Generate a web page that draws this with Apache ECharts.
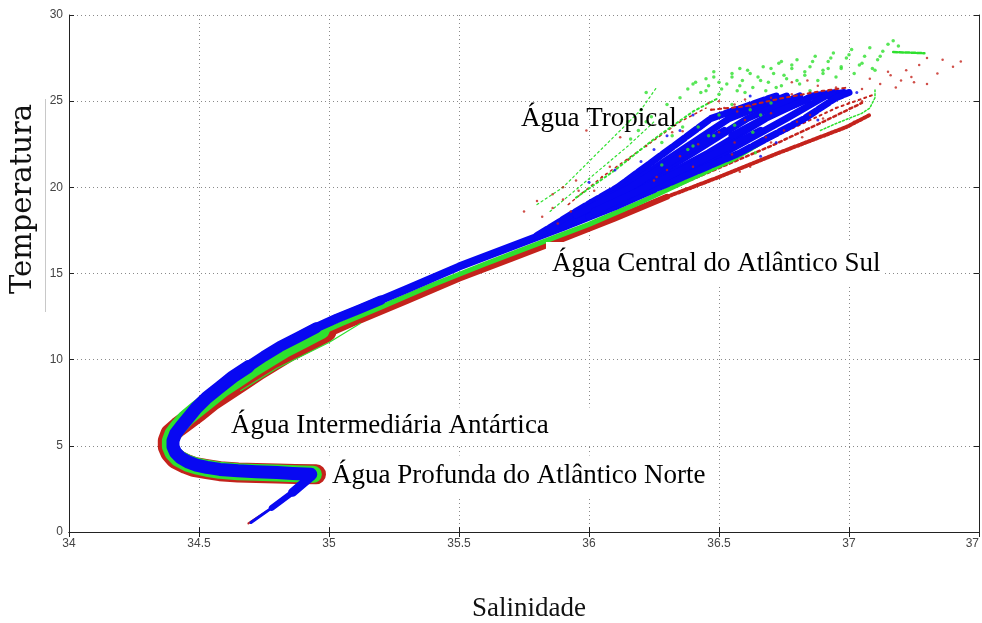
<!DOCTYPE html>
<html><head><meta charset="utf-8">
<script src="https://cdn.jsdelivr.net/npm/echarts@6/dist/echarts.min.js"></script>
<style>html,body{margin:0;padding:0;background:#fff}#c{width:982px;height:623px}</style>
</head><body><div id="c"></div>
<script>
// ---- tick labels / texts ----
const xTickLabels = ['34','34.5','35','35.5','36','36.5','37','37'];
const yTickLabels = ['0','5','10','15','20','25','30'];
const xTitle = 'Salinidade';
const yTitle = 'Temperatura';
const annotations = ['Água Tropical','Água Central do Atlântico Sul','Água Intermediária Antártica','Água Profunda do Atlântico Norte'];

// ---- red traces (salinity, temperature) ----
const redHook = [[34.95,3.35],[34.87,3.37],[34.80,3.40],[34.72,3.42],[34.65,3.45],[34.58,3.53],[34.53,3.65],[34.48,3.78],[34.45,3.95],[34.41,4.25],[34.39,4.6],[34.38,4.95],[34.38,5.3],[34.39,5.7],[34.42,6.1],[34.46,6.55],[34.50,7.0],[34.55,7.6],[34.61,8.2],[34.67,8.8],[34.73,9.4],[34.79,9.95],[34.85,10.5],[34.92,11.05],[34.99,11.6]];
const redMid = [[34.95,11.15],[35.10,12.15],[35.30,13.4],[35.50,14.7],[35.70,15.85],[35.90,17.0],[36.10,18.2],[36.30,19.45]];
const redFanA = [[36.30,19.45],[36.50,20.6],[36.73,22.0],[36.86,22.75],[36.99,23.5],[37.08,24.2]];
const redFanB = [[36.20,19.2],[36.45,20.8],[36.70,22.4],[36.90,23.8],[37.05,24.9]];
const redFanC = [[36.30,20.1],[36.55,21.7],[36.75,23.2],[36.95,24.6],[37.10,25.4]];
const redLeft = [[35.92,19.0],[36.05,20.6],[36.20,22.2],[36.35,23.8],[36.45,24.6]];
const redTop = [[36.47,24.5],[36.60,24.7],[36.75,25.2],[36.90,25.6],[37.00,25.8]];
const redTail = [[34.69,0.5],[34.76,1.2]];
const redDots = [[37.43,27.3],[37.40,27.0],[37.36,27.4],[37.30,27.5],[37.27,27.1],[37.22,26.8],[37.20,26.2],[37.16,26.5],[37.24,26.4],[37.12,26.0],[37.34,26.6],[37.30,26.0],[37.18,25.8],[37.08,26.3],[37.05,25.7],
  [36.47,24.5],[36.52,24.6],[36.57,24.4],[36.62,24.7],[36.70,25.2],[36.78,25.4],[36.85,25.5],[36.92,25.6],[36.95,25.8],[36.88,25.9],
  [35.99,23.3],[35.86,19.6],[35.90,20.0],[35.95,20.4],[36.02,19.8],[36.05,20.6],[36.08,21.2],[35.80,19.2],[35.75,18.6],
  [35.82,18.3],[35.86,18.8],[35.90,19.3],[35.93,18.6],[35.96,19.8],[35.88,17.9],
  [36.75,23.3],[36.80,23.8],[36.85,24.2],[36.90,24.0],[36.95,24.6],[37.00,24.9],[37.05,25.0],[36.82,22.9],[36.70,22.6],
  [36.32,23.2],[36.36,23.25],[36.78,26.1],[36.84,26.2],[36.46,24.9],[36.50,25.0],[36.56,24.8],[36.60,25.1],
  [36.40,21.2],[36.55,21.9],[36.68,22.9],[36.25,20.4],[36.15,21.6],[36.22,22.4],[36.12,22.9],[37.15,26.7],[37.25,26.1],
  [36.62,21.2],[36.78,22.3],[36.92,23.1],[37.02,23.8],[36.58,20.9],[36.84,22.6],
  [36.30,21.0],[36.35,21.8],[36.42,22.5],[36.50,23.2],[36.26,20.6],[36.60,23.9],[36.70,24.3],[36.56,22.6]];

// ---- green traces ----
const greenHook = [[34.94,3.35],[34.87,3.38],[34.80,3.42],[34.72,3.46],[34.65,3.50],[34.58,3.58],[34.53,3.70],[34.49,3.83],[34.455,4.0],[34.42,4.28],[34.40,4.6],[34.39,4.95],[34.39,5.3],[34.40,5.7],[34.42,6.1],[34.45,6.6],[34.49,7.1],[34.54,7.7],[34.59,8.3],[34.65,8.9],[34.71,9.5],[34.77,10.05],[34.83,10.6],[34.90,11.15],[34.97,11.7]];
const greenMid = [[34.90,11.1],[35.05,12.1],[35.20,13.05],[35.40,14.35],[35.60,15.55],[35.80,16.7],[36.00,17.85],[36.20,19.15],[36.40,20.55],[36.55,21.6],[36.65,22.5]];
const greenThin = [[34.66,8.2],[34.80,9.5],[35.00,11.0],[35.12,12.1]];
const greenTrop1 = [[35.80,19.0],[35.90,20.0],[36.00,21.5],[36.10,23.0],[36.20,24.5],[36.26,25.8]];
const greenTrop2 = [[35.85,18.6],[36.00,20.5],[36.15,22.4],[36.25,23.8]];
const greenLeft = [[35.95,19.4],[36.10,21.0],[36.25,22.8],[36.40,24.4],[36.50,25.2]];
const greenTopRight = [[37.17,27.85],[37.23,27.82],[37.29,27.78]];
const greenRight = [[36.89,23.3],[36.95,23.7],[37.00,24.0],[37.05,24.3],[37.08,24.6],[37.10,25.2],[37.10,25.65]];
const greenDots = [[36.38,25.7],[36.41,26.1],[36.43,25.5],[36.46,25.9],[36.48,26.4],[36.51,25.7],[36.53,26.0],[36.55,26.6],[36.57,25.6],[36.59,26.2],[36.61,26.8],[36.63,25.8],[36.65,26.4],[36.67,27.0],[36.69,26.1],[36.71,26.6],[36.73,27.2],[36.74,25.9],[36.76,26.3],[36.78,26.9],[36.80,27.4],[36.81,26.0],[36.83,26.5],[36.85,27.0],[36.87,27.6],[36.88,26.2],[36.90,26.8],[36.92,27.3],[36.94,27.8],[36.95,26.4],[36.97,26.9],[36.99,27.5],[37.01,28.0],[37.02,26.6],[37.04,27.1],[37.06,27.6],[37.08,28.1],[37.09,26.9],[37.11,27.4],[37.13,27.9],[37.15,28.3],[37.17,28.5],[37.19,28.2],
  [36.40,26.0],[36.45,26.3],[36.50,26.1],[36.55,26.4],[36.58,25.9],[36.62,26.6],[36.66,26.2],[36.70,26.9],[36.72,25.8],[36.75,26.5],[36.78,27.1],[36.80,26.2],[36.83,26.7],[36.86,27.3],[36.90,26.6],[36.93,27.5],[36.97,27.0],[37.00,27.7],[37.05,27.2],[37.10,26.8],[37.12,27.6],
  [36.60,25.5],[36.68,25.6],[36.85,25.6],[36.50,25.4],[36.45,25.6],[36.35,25.2],[36.30,24.8],[36.22,25.5],[36.20,24.5],[36.15,23.8],
  [36.16,22.8],[36.19,23.3],[36.22,23.8],[36.24,24.1],[36.28,22.6],[36.32,23.0],[36.36,23.5],[36.40,22.4],
  [36.55,24.8],[36.62,24.5],[36.70,24.9],[36.50,24.2],[36.42,23.5],[36.48,23.0],[36.63,23.2],[36.64,22.0],[36.92,26.9],[36.74,27.3],[36.58,26.9],[36.48,26.7],
  [36.28,21.3],[36.38,22.2],[36.46,23.0],[36.56,23.6],[36.66,24.2]];

// ---- blue traces ----
const blueTail = [[34.70,0.55],[34.78,1.4],[34.86,2.3],[34.94,3.3]];
const blueTailMid = [[34.78,1.4],[34.86,2.3],[34.93,3.2]];
const blueTailWide = [[34.86,2.3],[34.93,3.2]];
const blueMain = [[34.93,3.35],[34.86,3.40],[34.80,3.45],[34.72,3.50],[34.65,3.55],[34.58,3.63],[34.53,3.75],[34.49,3.88],[34.46,4.05],[34.43,4.3],[34.41,4.6],[34.40,4.95],[34.40,5.3],[34.41,5.7],[34.43,6.1],[34.46,6.65],[34.49,7.2],[34.53,7.8],[34.58,8.4],[34.63,9.0],[34.69,9.6],[34.75,10.2],[34.81,10.75],[34.88,11.3],[34.95,11.85],[35.03,12.4],[35.12,12.95],[35.30,14.1],[35.50,15.4],[35.70,16.55],[35.90,17.7],[36.10,18.9],[36.25,19.9]];
const blueHookThick = [[34.93,3.35],[34.86,3.40],[34.80,3.45],[34.72,3.50],[34.65,3.55],[34.58,3.63],[34.53,3.75],[34.49,3.88],[34.46,4.05],[34.43,4.3],[34.41,4.6],[34.40,4.95],[34.40,5.3],[34.41,5.7],[34.43,6.1],[34.46,6.65],[34.49,7.2],[34.53,7.8],[34.58,8.4],[34.63,9.0],[34.69,9.6]];
const blueArmThick = [[34.58,8.4],[34.63,9.0],[34.69,9.6],[34.75,10.2],[34.81,10.75],[34.88,11.3],[34.95,11.85]];
const blueArmMid = [[34.88,11.3],[34.95,11.85],[35.03,12.4],[35.12,12.95],[35.20,13.45]];
const blueFan = [
  [[35.80,17.2],[35.95,18.6],[36.11,20.0],[36.29,22.0],[36.47,24.0],[36.72,25.3]],
  [[35.85,17.5],[36.00,18.8],[36.14,20.0],[36.34,22.0],[36.54,24.0],[36.76,25.3]],
  [[35.90,17.7],[36.05,18.9],[36.18,20.0],[36.40,22.0],[36.61,24.0],[36.81,25.3]],
  [[35.95,18.0],[36.10,19.1],[36.21,20.0],[36.46,22.0],[36.68,24.0],[36.86,25.3],[36.95,25.5]],
  [[36.00,18.3],[36.14,19.3],[36.24,20.0],[36.52,22.0],[36.76,24.0],[36.91,25.3],[36.98,25.5]],
  [[36.05,18.6],[36.18,19.5],[36.27,20.0],[36.58,22.0],[36.83,24.0],[36.95,25.2],[37.00,25.5]]
];
const blueFanFill = [
  [[35.95,18.4],[36.16,20.0],[36.37,22.0],[36.52,23.3]],
  [[36.02,18.6],[36.22,20.0],[36.49,22.0],[36.66,23.3]],
  [[36.55,23.0],[36.71,24.3],[36.84,25.1]]
];
const blueDots = [[36.95,25.6],[37.00,25.6],[37.03,25.5],[36.90,25.45],[36.20,21.5],[36.25,22.2],[36.30,23.0],[36.35,23.3],[36.10,21.0],[36.00,20.3],[36.40,24.2],[36.62,25.3],[36.44,23.6],[36.66,21.8],[36.72,22.6],[36.88,23.9]];

const C_RED = '#c4231c', C_GREEN = '#2ee02e', C_BLUE = '#0808f2';

function trace(data, color, width, z, dash) {
  return { type: 'line', data: data, symbol: 'none', smooth: false, silent: true, z: z,
    lineStyle: { color: color, width: width, cap: 'round', join: 'round', type: dash || 'solid' } };
}
function dots(data, color, size, z) {
  return { type: 'scatter', data: data, symbol: 'circle', symbolSize: size, silent: true, z: z,
    itemStyle: { color: color } };
}

const series = [
  trace(redHook, C_RED, 20, 2), trace(redMid, C_RED, 6, 2), trace(redTail, C_RED, 2, 2),
  trace(redFanA, C_RED, 4, 2, [2, 2]), trace(redFanB, C_RED, 2.5, 2, [3, 3]), trace(redFanC, C_RED, 2, 2, [2, 4]),
  trace(redLeft, C_RED, 1.5, 2, [2, 4]), trace(redTop, C_RED, 2, 6, [3, 4]),
  trace(greenHook, C_GREEN, 17, 3), trace(greenMid, C_GREEN, 5, 3), trace(greenThin, C_GREEN, 1.2, 3),
  trace(greenTrop1, C_GREEN, 1.2, 3, [2, 3]), trace(greenTrop2, C_GREEN, 1.2, 3, [2, 3]),
  trace(greenLeft, C_GREEN, 2, 3, [2, 3]), trace(greenTopRight, C_GREEN, 2.5, 3, [4, 2]),
  trace(greenRight, C_GREEN, 1.5, 3, [2, 2]),
  trace(blueTail, C_BLUE, 3, 4), trace(blueTailMid, C_BLUE, 6, 4), trace(blueTailWide, C_BLUE, 9, 4),
  trace(blueMain, C_BLUE, 8, 4), trace(blueHookThick, C_BLUE, 13, 4), trace(blueArmThick, C_BLUE, 11, 4),
  trace(blueArmMid, C_BLUE, 9.5, 4)
];
blueFan.forEach(function (s, i) { series.push(trace(s, C_BLUE, 7, 4, (i === 0 || i === 5) ? [12, 3] : 'solid')); });
blueFanFill.forEach(function (s) { series.push(trace(s, C_BLUE, 7, 4)); });
series.push(dots(blueDots, C_BLUE, 3, 5), dots(greenDots, C_GREEN, 3.5, 6), dots(redDots, C_RED, 2.5, 6));

const labelFont = { color: '#444', fontFamily: 'Liberation Sans, Arial', fontSize: 12 };
const splitStyle = { show: true, lineStyle: { color: '#8a8a8a', width: 1, type: [1, 3] } };
const axisLineStyle = { show: true, lineStyle: { color: '#222', width: 1 } };
const tickStyle = { show: true, inside: true, length: 5, lineStyle: { color: '#222' } };

const chart = echarts.init(document.getElementById('c'), null, { renderer: 'canvas' });
chart.setOption({
  animation: false,
  backgroundColor: '#fff',
  grid: { left: 69, right: 2, top: 15, bottom: 91 },
  xAxis: [
    { type: 'value', position: 'bottom', min: 34, max: 37.5, interval: 0.5,
      axisLine: axisLineStyle, axisTick: tickStyle,
      axisLabel: Object.assign({ margin: 6, alignMaxLabel: 'right', showMaxLabel: true,
        formatter: function (v) { return xTickLabels[Math.round((v - 34) / 0.5)]; } }, labelFont),
      splitLine: splitStyle },
    { type: 'value', position: 'top', min: 34, max: 37.5, interval: 0.5,
      axisLine: axisLineStyle, axisTick: tickStyle, axisLabel: { show: false }, splitLine: { show: false } }
  ],
  yAxis: [
    { type: 'value', position: 'left', min: 0, max: 30, interval: 5,
      axisLine: axisLineStyle, axisTick: tickStyle,
      axisLabel: Object.assign({ margin: 6,
        formatter: function (v) { return yTickLabels[Math.round(v / 5)]; } }, labelFont),
      splitLine: splitStyle },
    { type: 'value', position: 'right', min: 0, max: 30, interval: 5,
      axisLine: axisLineStyle, axisTick: tickStyle, axisLabel: { show: false }, splitLine: { show: false } }
  ],
  series: series,
  graphic: [
    { type: 'line', z: 100, silent: true, shape: { x1: 45.5, y1: 99, x2: 45.5, y2: 312 }, style: { stroke: '#c8c8c8', lineWidth: 1 } },
    { type: 'text', z: 100, silent: true, x: 23, y: 199, rotation: Math.PI / 2,
      style: { text: yTitle, font: '29px "DejaVu Serif"', fill: '#111', align: 'center', verticalAlign: 'middle' } },
    { type: 'text', z: 100, silent: true, x: 529, y: 609,
      style: { text: xTitle, font: '27px "Liberation Serif"', fill: '#111', align: 'center', verticalAlign: 'middle' } },
    { type: 'text', z: 100, silent: true, x: 521, y: 119,
      style: { text: annotations[0], font: '27px "Liberation Serif"', fill: '#000', align: 'left', verticalAlign: 'middle' } },
    { type: 'text', z: 100, silent: true, x: 546, y: 264,
      style: { text: annotations[1], font: '27px "Liberation Serif"', fill: '#000', align: 'left', verticalAlign: 'middle', backgroundColor: '#fff', padding: [9, 4, 8, 6] } },
    { type: 'text', z: 100, silent: true, x: 227, y: 426,
      style: { text: annotations[2], font: '27px "Liberation Serif"', fill: '#000', align: 'left', verticalAlign: 'middle', backgroundColor: '#fff', padding: [2, 105, 8, 4] } },
    { type: 'text', z: 100, silent: true, x: 328, y: 476,
      style: { text: annotations[3], font: '27px "Liberation Serif"', fill: '#000', align: 'left', verticalAlign: 'middle', backgroundColor: '#fff', padding: [2, 4, 12, 4] } }
  ]
});
</script>
</body></html>
